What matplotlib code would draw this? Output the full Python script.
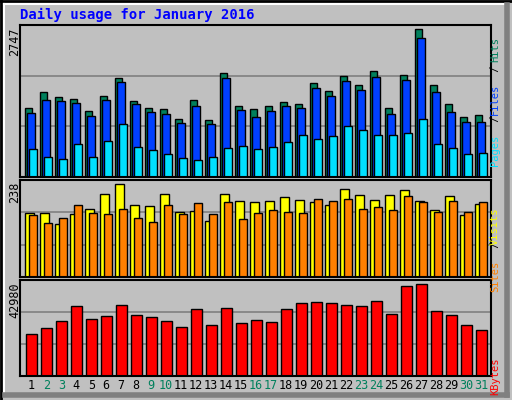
import matplotlib
matplotlib.use("Agg")
import matplotlib.pyplot as plt
import numpy as np

DAYS = [str(d) for d in range(1, 32)]
WEEKEND = [2, 3, 9, 10, 16, 17, 23, 24, 30, 31]

HITS = [1282, 1575, 1483, 1447, 1227, 1501, 1831, 1410, 1282, 1263, 1080, 1428, 1062, 1923, 1318, 1263,
        1318, 1392, 1355, 1739, 1593, 1868, 1703, 1959, 1282, 1886, 2747, 1703, 1355, 1117, 1154]
FILES = [1190, 1428, 1410, 1373, 1135, 1428, 1758, 1355, 1208, 1172, 1007, 1318, 989, 1831, 1245, 1117,
         1227, 1318, 1282, 1648, 1501, 1776, 1611, 1849, 1172, 1794, 2582, 1575, 1208, 1025, 1025]
PAGES = [513, 366, 330, 604, 366, 659, 989, 549, 494, 421, 348, 311, 366, 531, 568, 513,
         549, 641, 787, 696, 769, 952, 879, 787, 787, 824, 1080, 604, 531, 421, 439]
VISITS = [163, 163, 135, 161, 174, 212, 238, 184, 181, 212, 166, 168, 143, 212, 194, 192,
          194, 204, 197, 192, 184, 225, 210, 197, 210, 222, 194, 171, 207, 158, 186]
SITES = [158, 137, 150, 184, 163, 161, 174, 150, 140, 184, 161, 189, 161, 192, 148, 163,
         171, 166, 163, 199, 194, 199, 174, 179, 171, 207, 192, 166, 194, 166, 192]
KBYTES = [19538, 22351, 25633, 32667, 26571, 27978, 33136, 28447, 27509, 25633, 22820, 31260, 23758,
          31729, 24695, 26102, 25164, 31260, 34073, 34542, 34073, 33136, 32667, 35011, 28916, 42045,
          42980, 30322, 28447, 23758, 21413]

BG = "#C0C0C0"
C_HITS, C_FILES, C_PAGES = "#00805C", "#0040FF", "#00E0FF"
C_VISITS, C_SITES, C_KB = "#FFFF00", "#FF8000", "#FF0000"
GREEN = "#00805C"
MONO = "DejaVu Sans Mono"

W, H = 512, 400
fig = plt.figure(figsize=(W / 100, H / 100), dpi=100, facecolor=BG)


def px_axes(x0, y0, x1, y1):
    return fig.add_axes([x0 / W, 1 - y1 / H, (x1 - x0) / W, (y1 - y0) / H])


# outer bevel
fig.add_artist(plt.Line2D([0, 1], [1 - 1 / H, 1 - 1 / H], color="black", lw=2))
fig.add_artist(plt.Line2D([1 / W, 1 / W], [0, 1], color="black", lw=2))
fig.add_artist(plt.Line2D([4 / W, 1 - 6 / W], [1 - 4 / H, 1 - 4 / H], color="white", lw=1.5))
fig.add_artist(plt.Line2D([4 / W, 4 / W], [6 / H, 1 - 4 / H], color="white", lw=1.5))
fig.add_artist(plt.Line2D([1 - 5 / W, 1 - 5 / W], [5 / H, 1 - 5 / H], color="#808080", lw=4))
fig.add_artist(plt.Line2D([5 / W, 1 - 5 / W], [5 / H, 5 / H], color="#808080", lw=4))

x = np.arange(31)
XL = (-0.62, 30.78)


def style(ax, ymax):
    ax.set_facecolor(BG)
    ax.set_xlim(*XL)
    ax.set_ylim(0, ymax)
    ax.set_xticks([])
    ax.set_yticks([])
    for s in ax.spines.values():
        s.set_color("black")
        s.set_linewidth(1.5)
    for g in (ymax / 3, 2 * ymax / 3):
        ax.axhline(g, color="#808080", lw=1.2, zorder=0)


ax1 = px_axes(20, 25, 491, 177)
style(ax1, 2820)
ax1.bar(x - 0.27, HITS, 0.47, align="edge", color=C_HITS, edgecolor="black", lw=1)
ax1.bar(x - 0.13, FILES, 0.49, align="edge", color=C_FILES, edgecolor="black", lw=1)
ax1.bar(x, PAGES, 0.49, align="edge", color=C_PAGES, edgecolor="black", lw=1)

ax2 = px_axes(20, 180, 491, 277)
style(ax2, 248)
ax2.bar(x - 0.27, VISITS, 0.56, align="edge", color=C_VISITS, edgecolor="black", lw=1)
ax2.bar(x, SITES, 0.49, align="edge", color=C_SITES, edgecolor="black", lw=1)

ax3 = px_axes(20, 280, 491, 376)
style(ax3, 45000)
ax3.bar(x - 0.22, KBYTES, 0.71, align="edge", color=C_KB, edgecolor="black", lw=1)
for i, d in enumerate(DAYS):
    col = GREEN if int(d) in WEEKEND else "black"
    ax3.text(i + 0.13, -0.03, d, transform=ax3.get_xaxis_transform(), ha="center", va="top",
             color=col, fontsize=8.5, family=MONO)

fig.text(20 / W, 1 - 15 / H, "Daily usage for January 2016", color="#0000FF", fontsize=10,
         family=MONO, fontweight="bold", va="center")

for txt, ytop in (("2747", 27), ("238", 182), ("42980", 282)):
    fig.text(15 / W, 1 - ytop / H, txt, rotation=90, ha="center", va="top", fontsize=8.5, family=MONO)

SIDE_FS = 7.5
STEP = 0.602 * SIDE_FS * 100 / 72  # monospace advance in px


def side_label(parts, ybottom):
    y = ybottom
    for t, c in parts:
        fig.text(500 / W, 1 - y / H, t, rotation=90, ha="center", va="bottom", color=c,
                 fontsize=SIDE_FS, family=MONO, rotation_mode="anchor")
        y -= len(t) * STEP


side_label([("Pages", C_PAGES), (" / ", "black"), ("Files", C_FILES), (" / ", "black"), ("Hits", C_HITS)], 150)
side_label([("Sites", C_SITES), (" / ", "black"), ("Visits", C_VISITS)], 276)
side_label([("KBytes", C_KB)], 376)

fig.savefig("out.png", dpi=100, facecolor=BG)
